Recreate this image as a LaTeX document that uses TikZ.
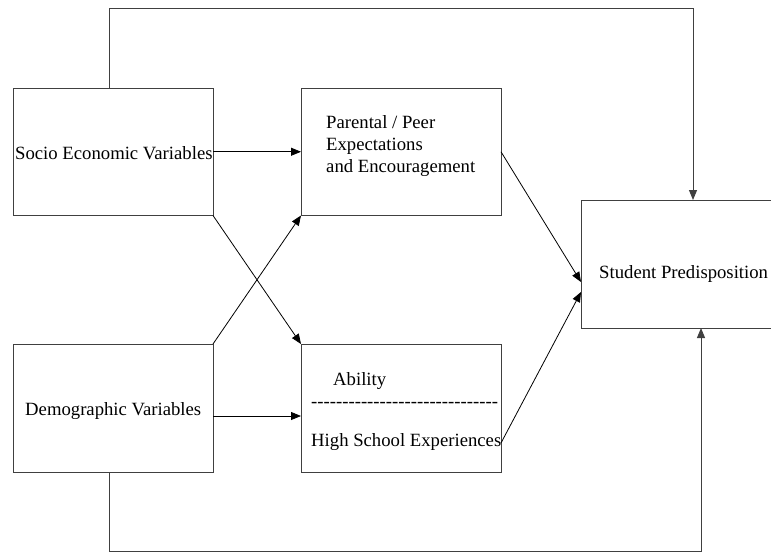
\documentclass[tikz,border=0pt]{standalone}
\usepackage{fontspec}
\setmainfont{Liberation Serif}
\usetikzlibrary{arrows.meta}
\newcommand\hyp{-\kern0pt}
\newcommand\hypten{\hyp\hyp\hyp\hyp\hyp\hyp\hyp\hyp\hyp\hyp}
\begin{document}
\begin{tikzpicture}[x=1pt,y=-1pt,
  box/.style={draw=black!75,line width=1pt,inner sep=0pt,outer sep=0pt,minimum width=200pt,minimum height=127.5pt},
  lbl/.style={anchor=base west,inner sep=0pt,font=\fontsize{18.7}{22}\selectfont},
  arr/.style={draw=black,line width=0.8pt,-{Triangle[length=10pt,width=8pt]}},
  link/.style={draw=black!75,line width=1pt,-{Triangle[length=10pt,width=8pt]}}]
\useasboundingbox (0,0) rectangle (771,552);
\fill[white] (0,0) rectangle (771,552);
% boxes
\node[box] (se) at (113,151.75) {};
\node[box] (pe) at (401,151.75) {};
\node[box,minimum height=128pt] (dv) at (113,408) {};
\node[box,minimum height=128pt] (ah) at (401,408) {};
\node[box,minimum width=190pt,minimum height=128pt] (sp) at (676,264) {};
% texts
\node[lbl] (t1) at (15,159) {Socio Economic Variables};
\node[lbl] (t2) at (326,128.5) {Parental / Peer};
\node[lbl] (t3) at (326,150.5) {Expectations};
\node[lbl] (t4) at (326,172.5) {and Encouragement};
\node[lbl] (t5) at (25,415) {Demographic Variables};
\node[lbl] (t6) at (333,385) {Ability};
\node[lbl] (t7) at (311,407) {\hypten\hypten\hypten};
\node[lbl] (t8) at (311,446.5) {High School Experiences};
\node[lbl] (t9) at (599,278) {Student Predisposition};
% helper coordinates
\coordinate (topy) at (0,8);
\coordinate (boty) at (0,551);
% connectors
\draw[arr] (se.east) -- (pe.west);
\draw[arr] ([yshift=-8pt]dv.east) -- ([yshift=-8pt]ah.west);
\draw[arr] (se.south east) -- (ah.north west);
\draw[arr] (dv.north east) -- (pe.south west);
\draw[arr] (pe.east) -- ([yshift=-18pt]sp.west);
\draw[arr] ([yshift=-35pt]ah.east) -- ([yshift=-28pt]sp.west);
\draw[link] ([xshift=-4pt]se.north) -- ([xshift=-4pt]se.north |- topy) -| ([xshift=17pt]sp.north);
\draw[link] ([xshift=-4pt]dv.south) -- ([xshift=-4pt]dv.south |- boty) -| ([xshift=25pt]sp.south);
\end{tikzpicture}
\end{document}
